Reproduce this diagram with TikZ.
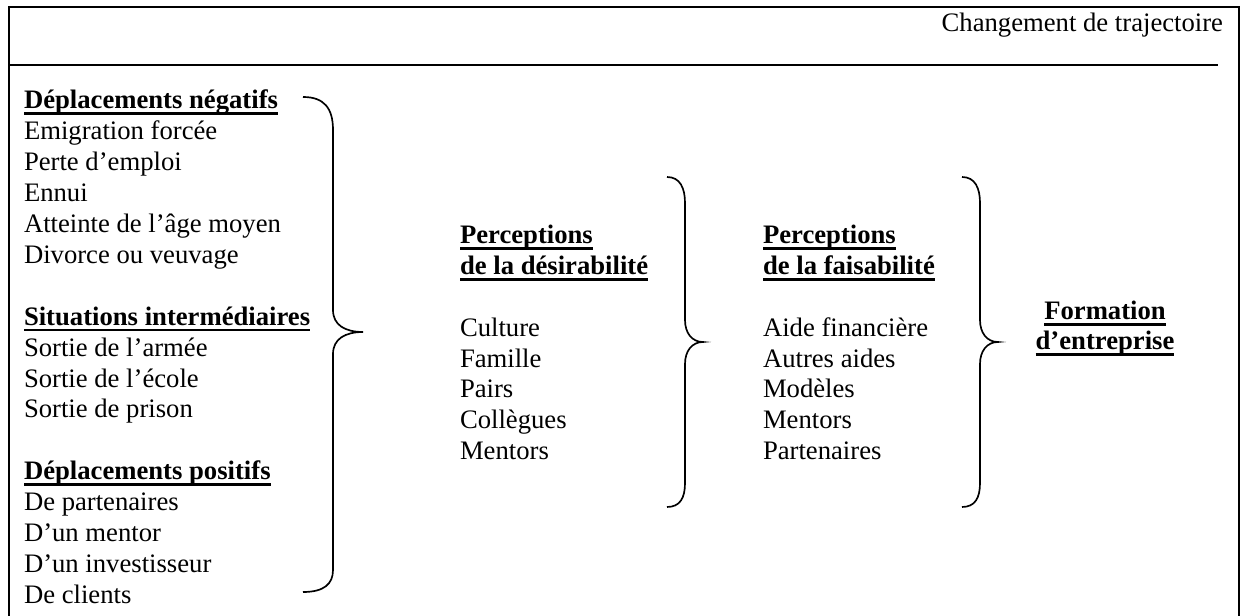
\documentclass[tikz,border=0pt]{standalone}
\usepackage{fontspec}
\setmainfont{Liberation Serif}
\newcommand\ulb[1]{\setbox0\hbox{\bfseries #1}\rlap{\rule[-2.6pt]{\wd0}{1.1pt}}\box0}
\begin{document}
\begin{tikzpicture}[x=0.45pt,y=-0.45pt,
  every node/.style={inner sep=0pt, outer sep=0pt, font=\fontsize{12}{13.9}\selectfont},
  txt/.style={anchor=base west},
  ctr/.style={anchor=base},
  frm/.style={line width=0.9pt},
  sepline/.style={line width=0.8pt},
  brc/.style={line width=0.75pt}]
\useasboundingbox (0,0) rectangle (1240,616);
% frame
\draw[frm] (8.5,616) -- (8.5,7.5) -- (1238.5,7.5) -- (1238.5,616);
\coordinate (sepL) at (8.5,65);
\coordinate (sepR) at (1218,65);
\draw[sepline] (sepL) -- (sepR);
\node[anchor=base east] (hdr) at (1223,32) {Changement de trajectoire};
% left column
\node[txt] (a0) at (24,109) {\ulb{Déplacements négatifs}};
\node[txt] (a1) at (24,139.9) {Emigration forcée};
\node[txt] (a2) at (24,170.8) {Perte d’emploi};
\node[txt] (a3) at (24,201.7) {Ennui};
\node[txt] (a4) at (24,232.6) {Atteinte de l’âge moyen};
\node[txt] (a5) at (24,263.5) {Divorce ou veuvage};
\node[txt] (a7) at (24,325.3) {\ulb{Situations intermédiaires}};
\node[txt] (a8) at (24,356.2) {Sortie de l’armée};
\node[txt] (a9) at (24,387.1) {Sortie de l’école};
\node[txt] (a10) at (24,418) {Sortie de prison};
\node[txt] (a12) at (24,479.8) {\ulb{Déplacements positifs}};
\node[txt] (a13) at (24,510.7) {De partenaires};
\node[txt] (a14) at (24,541.6) {D’un mentor};
\node[txt] (a15) at (24,572.5) {D’un investisseur};
\node[txt] (a16) at (24,603.4) {De clients};
% second column
\node[txt] (b0) at (460,244) {\ulb{Perceptions}};
\node[txt] (b1) at (460,274.8) {\ulb{de la désirabilité}};
\node[txt] (b3) at (460,336.4) {Culture};
\node[txt] (b4) at (460,367.2) {Famille};
\node[txt] (b5) at (460,398) {Pairs};
\node[txt] (b6) at (460,428.8) {Collègues};
\node[txt] (b7) at (460,459.6) {Mentors};
% third column
\node[txt] (c0) at (763,244) {\ulb{Perceptions}};
\node[txt] (c1) at (763,274.8) {\ulb{de la faisabilité}};
\node[txt] (c3) at (763,336.4) {Aide financière};
\node[txt] (c4) at (763,367.2) {Autres aides};
\node[txt] (c5) at (763,398) {Modèles};
\node[txt] (c6) at (763,428.8) {Mentors};
\node[txt] (c7) at (763,459.6) {Partenaires};
% result
\node[ctr] (d0) at (1105,320) {\ulb{Formation}};
\node[ctr] (d1) at (1105,350) {\ulb{d’entreprise}};
% braces
\draw[brc] (303,97) .. controls (324,97) and (333,108) .. (333,130)
  -- (333,310) .. controls (333,325) and (345,332) .. (363,332)
  .. controls (345,332) and (333,339) .. (333,354)
  -- (333,570) .. controls (333,584) and (324,592) .. (303,592);
\draw[brc] (667,177) .. controls (680,177) and (685,188) .. (685,203)
  -- (685,320) .. controls (685,333) and (692,342) .. (703,342)
  .. controls (692,342) and (685,351) .. (685,364)
  -- (685,483) .. controls (685,498) and (680,507) .. (667,507);
\draw[brc] (962,177) .. controls (975,177) and (980,188) .. (980,203)
  -- (980,320) .. controls (980,333) and (987,342) .. (998,342)
  .. controls (987,342) and (980,351) .. (980,364)
  -- (980,483) .. controls (980,498) and (975,507) .. (962,507);
\end{tikzpicture}
\end{document}
